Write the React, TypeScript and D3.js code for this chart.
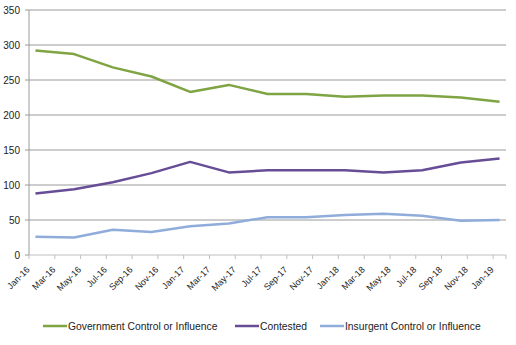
import React from "react";
import * as d3 from "d3";

const tickLabels = ["Jan-16","Mar-16","May-16","Jul-16","Sep-16","Nov-16","Jan-17","Mar-17","May-17","Jul-17","Sep-17","Nov-17","Jan-18","Mar-18","May-18","Jul-18","Sep-18","Nov-18","Jan-19"];
// month index (0 = Jan-16) of each observation
const obsMonths = [0, 3, 6, 9, 12, 15, 18, 21, 24, 27, 30, 33, 36];
const government = [292, 287, 268, 255, 233, 243, 230, 230, 226, 228, 228, 225, 219];
const contested = [88, 94, 104, 117, 133, 118, 121, 121, 121, 118, 121, 132, 138];
const insurgent = [26, 25, 36, 33, 41, 45, 54, 54, 57, 59, 56, 49, 50];
const yTicks = [0, 50, 100, 150, 200, 250, 300, 350];

const seriesNames = ["Government Control or Influence", "Contested", "Insurgent Control or Influence"];
const colors = ["#7FA443", "#674D96", "#8FACDA"];

export default function App() {
  const W = 516, H = 345;
  const left = 29, right = 506, top = 10, bottom = 255;
  const x = d3.scaleLinear().domain([0, 37]).range([left, right]);
  const y = d3.scaleLinear().domain([0, 350]).range([bottom, top]);
  const line = d3.line<[number, number]>().x(d => x(d[0] + 0.5)).y(d => y(d[1]));
  const all = [government, contested, insurgent];
  const font = "'Liberation Sans', Arial, sans-serif";
  const legendItems = [
    { x: 43, tx: 68 },
    { x: 235, tx: 260 },
    { x: 320, tx: 345 },
  ];
  return (
    <svg width={W} height={H} style={{ position: "absolute", left: 0, top: 0 }} fontFamily={font}>
      <rect width={W} height={H} fill="#fff" />
      {yTicks.map(t => (
        <g key={t}>
          {t > 0 && <line x1={left} x2={right} y1={y(t)} y2={y(t)} stroke="#9a9a9a" strokeWidth={1} />}
          <line x1={left - 4} x2={left} y1={y(t)} y2={y(t)} stroke="#9a9a9a" />
          <text x={20} y={y(t)} dy="0.35em" textAnchor="end" fontSize={10} fill="#222">{t}</text>
        </g>
      ))}
      <line x1={left} x2={left} y1={top} y2={bottom} stroke="#9a9a9a" />
      <line x1={left} x2={right} y1={bottom} y2={bottom} stroke="#c0c0c0" />
      {tickLabels.map((lab, i) => {
        const tx = x(i * 2);
        return (
          <g key={lab}>
            <line x1={tx} x2={tx} y1={bottom} y2={bottom + 4} stroke="#c0c0c0" />
            <text transform={`translate(${tx - 1},${bottom + 13}) rotate(-45)`} textAnchor="end" dy="0.35em" fontSize={9} fill="#222">{lab}</text>
          </g>
        );
      })}
      <line x1={right} x2={right} y1={bottom} y2={bottom + 4} stroke="#c0c0c0" />
      {all.map((s, k) => (
        <path key={k} d={line(s.map((v, i) => [obsMonths[i], v]))!} fill="none" stroke={colors[k]} strokeWidth={2.5} strokeLinejoin="round" />
      ))}
      {seriesNames.map((n, k) => (
        <g key={n}>
          <line x1={legendItems[k].x} x2={legendItems[k].x + 24} y1={326} y2={326} stroke={colors[k]} strokeWidth={2.5} />
          <text x={legendItems[k].tx} y={326} dy="0.35em" fontSize={10.3} fill="#222">{n}</text>
        </g>
      ))}
    </svg>
  );
}
